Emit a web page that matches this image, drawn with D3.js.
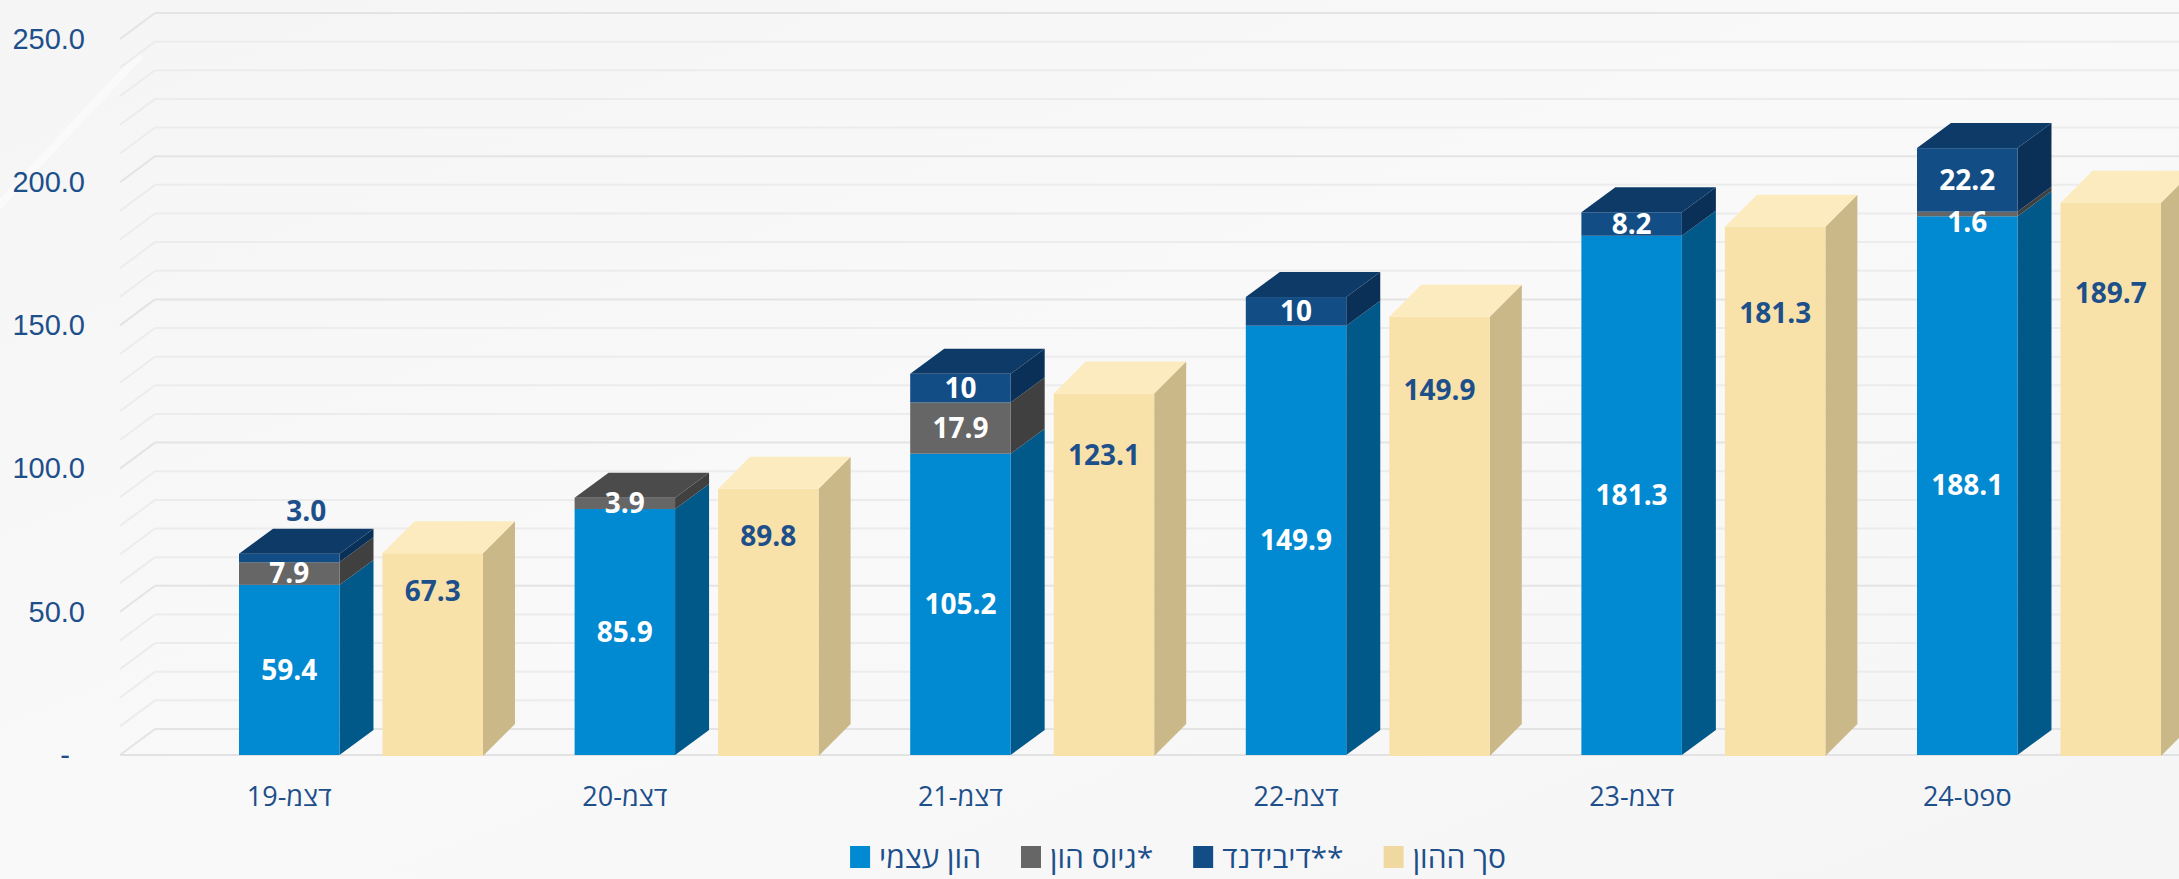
<!DOCTYPE html>
<html lang="he">
<head>
<meta charset="utf-8">
<script src="https://cdn.jsdelivr.net/npm/d3@7"></script>
<style>
  html, body { margin: 0; padding: 0; background: #f7f7f7; }
  svg { display: block; font-family: "Open Sans", "DejaVu Sans", sans-serif; }
</style>
</head>
<body>
<div id="chart"></div>
<script>
// values (billions)
const categories = ['דצמ-19', 'דצמ-20', 'דצמ-21', 'דצמ-22', 'דצמ-23', 'ספט-24'];
const equity = [59.4, 85.9, 105.2, 149.9, 181.3, 188.1];
const raised = [7.9, 3.9, 17.9, 0, 0, 1.6];
const dividend = [3.0, 0, 10, 10, 8.2, 22.2];
const totalCapital = [67.3, 89.8, 123.1, 149.9, 181.3, 189.7];
const dividendLabels = ['3.0', '', '10', '10', '8.2', '22.2'];
const yTicks = [0, 50, 100, 150, 200, 250];
const legendNames = ['הון עצמי', 'גיוס הון*', 'דיבידנד**', 'סך ההון'];

class Column3D {
  constructor(_config) {
    this.config = {
      parentElement: _config.parentElement,
      containerWidth: _config.containerWidth || 2179,
      containerHeight: _config.containerHeight || 879,
      floorY: 755,
      topY: 39,
      wallLeft: 120,
      groupLeft: 192,
      groupStep: 335.6,
      wall: {dx: 35, dy: 26},
      stackDepth: {dx: 34, dy: 25},
      totalDepth: {dx: 32, dy: 32},
      totalLift: 9,
      legendY: 857,
      legendCenter: 1178,
      textColor: '#1d4f8b'
    };
    this.colors = {
      equity:   {front: '#0189d1', side: '#01598a', top: '#0b6aa5'},
      raised:   {front: '#666666', side: '#404040', top: '#4b4b4b'},
      dividend: {front: '#124d85', side: '#0b3058', top: '#0d3a67'},
      total:    {front: '#f9e2aa', side: '#cab888', top: '#fdebc0'}
    };
    this.initVis();
  }

  initVis() {
    let vis = this;
    const c = vis.config;

    vis.svg = d3.select(c.parentElement).append('svg')
        .attr('width', c.containerWidth)
        .attr('height', c.containerHeight);

    // background with a soft sheen
    const defs = vis.svg.append('defs');
    const bg = defs.append('linearGradient').attr('id', 'bg-grad')
        .attr('x1', 0).attr('y1', 0).attr('x2', 1).attr('y2', 1);
    bg.append('stop').attr('offset', 0).attr('stop-color', '#f5f5f5');
    bg.append('stop').attr('offset', 0.5).attr('stop-color', '#f9f9f9');
    bg.append('stop').attr('offset', 1).attr('stop-color', '#f5f5f5');
    vis.svg.append('rect')
        .attr('width', c.containerWidth)
        .attr('height', c.containerHeight)
        .attr('fill', 'url(#bg-grad)');
    vis.svg.append('line')
        .attr('x1', -10).attr('y1', 215).attr('x2', 140).attr('y2', 55)
        .attr('stroke', '#ffffff').attr('stroke-width', 8).attr('opacity', 0.45);

    vis.y = d3.scaleLinear().domain([0, 250]).range([c.floorY, c.topY]);
    vis.x0 = d3.scaleBand().domain(categories)
        .range([c.groupLeft, c.groupLeft + categories.length * c.groupStep]);
    vis.x1 = d3.scaleBand().domain(['stack', 'total'])
        .range([47, 291]).paddingInner(0.3);

    vis.gridG = vis.svg.append('g').attr('class', 'grid');
    vis.barsG = vis.svg.append('g').attr('class', 'bars');
    vis.labelsG = vis.svg.append('g').attr('class', 'labels');

    vis.updateVis();
  }

  updateVis() {
    let vis = this;
    vis.rows = categories.map((cat, i) => ({
      cat: cat, equity: equity[i], raised: raised[i], dividend: dividend[i],
      total: totalCapital[i], divLabel: dividendLabels[i]
    }));
    vis.stack = d3.stack().keys(['equity', 'raised', 'dividend'])(vis.rows);
    vis.renderVis();
  }

  renderVis() {
    let vis = this;
    const c = vis.config;
    const y = vis.y;
    const W = c.containerWidth;

    // back wall, side wall and floor gridlines every 10
    const gridVals = d3.range(0, 251, 10);
    vis.gridG.selectAll('.back-line')
        .data(gridVals)
      .join('line')
        .attr('class', 'back-line')
        .attr('x1', c.wallLeft + c.wall.dx).attr('x2', W)
        .attr('y1', d => y(d) - c.wall.dy).attr('y2', d => y(d) - c.wall.dy)
        .attr('stroke', d => d % 50 === 0 ? '#e4e4e4' : '#ececec')
        .attr('stroke-width', 2);
    vis.gridG.selectAll('.side-line')
        .data(gridVals)
      .join('line')
        .attr('class', 'side-line')
        .attr('x1', c.wallLeft).attr('y1', d => y(d))
        .attr('x2', c.wallLeft + c.wall.dx).attr('y2', d => y(d) - c.wall.dy)
        .attr('stroke', d => d % 50 === 0 ? '#e4e4e4' : '#ececec')
        .attr('stroke-width', 2);
    vis.gridG.append('line')
        .attr('x1', c.wallLeft).attr('x2', W)
        .attr('y1', y(0)).attr('y2', y(0))
        .attr('stroke', '#e2e2e2').attr('stroke-width', 2);

    // y axis labels
    const yAxis = d3.axisLeft(y)
        .tickValues(yTicks)
        .tickSize(0)
        .tickPadding(0)
        .tickFormat(d => d === 0 ? '-' : d3.format('.1f')(d));
    const yAxisG = vis.svg.append('g')
        .attr('transform', 'translate(85,0)')
        .call(yAxis);
    yAxisG.select('.domain').remove();
    yAxisG.selectAll('text')
        .attr('fill', c.textColor)
        .style('font-size', '29px')
        .attr('dx', d => d === 0 ? -15 : 0);

    // x axis labels, centred under the stacked column
    vis.svg.append('g').selectAll('.x-label')
        .data(categories)
      .join('text')
        .attr('class', 'x-label')
        .attr('x', d => vis.x0(d) + vis.x1('stack') + vis.x1.bandwidth() / 2)
        .attr('y', 797)
        .attr('dy', '.35em')
        .attr('text-anchor', 'middle')
        .attr('fill', c.textColor)
        .style('font-size', '27px')
        .text(d => d);

    const bw = vis.x1.bandwidth();
    const sd = c.stackDepth;
    const td = c.totalDepth;
    const poly = pts => pts.map(p => p.join(',')).join(' ');

    categories.forEach((cat, i) => {
      const g = vis.barsG.append('g');
      const xl = vis.x0(cat) + vis.x1('stack');
      const xr = xl + bw;
      let topSeg = null;

      vis.stack.forEach(layer => {
        const seg = layer[i];
        if (seg[1] - seg[0] <= 0) return;
        const col = vis.colors[layer.key];
        const yb = y(seg[0]), yt = y(seg[1]);
        g.append('polygon')
            .attr('points', poly([[xr, yb], [xr + sd.dx, yb - sd.dy], [xr + sd.dx, yt - sd.dy], [xr, yt]]))
            .attr('fill', col.side);
        g.append('rect')
            .attr('x', xl).attr('y', yt)
            .attr('width', bw).attr('height', yb - yt)
            .attr('fill', col.front);
        topSeg = {key: layer.key, yt: yt};
      });
      if (topSeg) {
        g.append('polygon')
            .attr('points', poly([[xl, topSeg.yt], [xl + sd.dx, topSeg.yt - sd.dy],
                                  [xr + sd.dx, topSeg.yt - sd.dy], [xr, topSeg.yt]]))
            .attr('fill', vis.colors[topSeg.key].top);
      }

      // total capital column
      const tl = vis.x0(cat) + vis.x1('total');
      const tr = tl + bw;
      const tt = y(totalCapital[i]) - c.totalLift;
      const tb = y(0) + 1;
      const tc = vis.colors.total;
      g.append('polygon')
          .attr('points', poly([[tr, tb], [tr + td.dx, tb - td.dy], [tr + td.dx, tt - td.dy], [tr, tt]]))
          .attr('fill', tc.side);
      g.append('rect')
          .attr('x', tl).attr('y', tt)
          .attr('width', bw).attr('height', tb - tt)
          .attr('fill', tc.front);
      g.append('polygon')
          .attr('points', poly([[tl, tt], [tl + td.dx, tt - td.dy], [tr + td.dx, tt - td.dy], [tr, tt]]))
          .attr('fill', tc.top);
    });

    // data labels
    const labels = [];
    vis.stack.forEach(layer => {
      layer.forEach((seg, i) => {
        const v = seg[1] - seg[0];
        if (v <= 0) return;
        const cx = vis.x0(categories[i]) + vis.x1('stack') + bw / 2;
        const hpx = y(seg[0]) - y(seg[1]);
        const text = layer.key === 'dividend' ? seg.data.divLabel : d3.format('.1f')(v);
        if (layer.key === 'dividend' && hpx < 15) {
          // too thin: label sits above the column
          labels.push({x: cx + sd.dx / 2, y: y(seg[1]) - sd.dy - 17, text: text, fill: c.textColor});
        } else if (hpx < 8) {
          // hairline segment: label just under it
          labels.push({x: cx, y: y(seg[0]) + 6, text: text, fill: '#ffffff'});
        } else {
          labels.push({x: cx, y: (y(seg[0]) + y(seg[1])) / 2, text: text, fill: '#ffffff'});
        }
      });
    });
    totalCapital.forEach((v, i) => {
      labels.push({
        x: vis.x0(categories[i]) + vis.x1('total') + bw / 2,
        y: y(v * 0.85),
        text: d3.format('.1f')(v),
        fill: c.textColor
      });
    });

    vis.labelsG.selectAll('.value-label')
        .data(labels)
      .join('text')
        .attr('class', 'value-label')
        .attr('x', d => d.x)
        .attr('y', d => d.y)
        .attr('dy', '.35em')
        .attr('text-anchor', 'middle')
        .attr('fill', d => d.fill)
        .style('font-size', '28px')
        .style('font-weight', 700)
        .text(d => d.text);

    // legend
    const legendColors = [vis.colors.equity.front, vis.colors.raised.front,
                          vis.colors.dividend.front, '#efd9a0'];
    const legend = vis.svg.append('g').attr('class', 'legend');
    let xPos = 0;
    legendNames.forEach((name, i) => {
      const item = legend.append('g').attr('transform', `translate(${xPos},0)`);
      item.append('rect')
          .attr('x', 0).attr('y', -11)
          .attr('width', 20).attr('height', 22)
          .attr('fill', legendColors[i]);
      const t = item.append('text')
          .attr('x', 29).attr('y', 0)
          .attr('dy', '.35em')
          .attr('fill', c.textColor)
          .style('font-size', '30px')
          .text(name);
      xPos += 29 + t.node().getComputedTextLength() + 40;
    });
    const legendWidth = xPos - 40;
    legend.attr('transform', `translate(${c.legendCenter - legendWidth / 2},${c.legendY})`);
  }
}

new Column3D({parentElement: '#chart'});
</script>
</body>
</html>
